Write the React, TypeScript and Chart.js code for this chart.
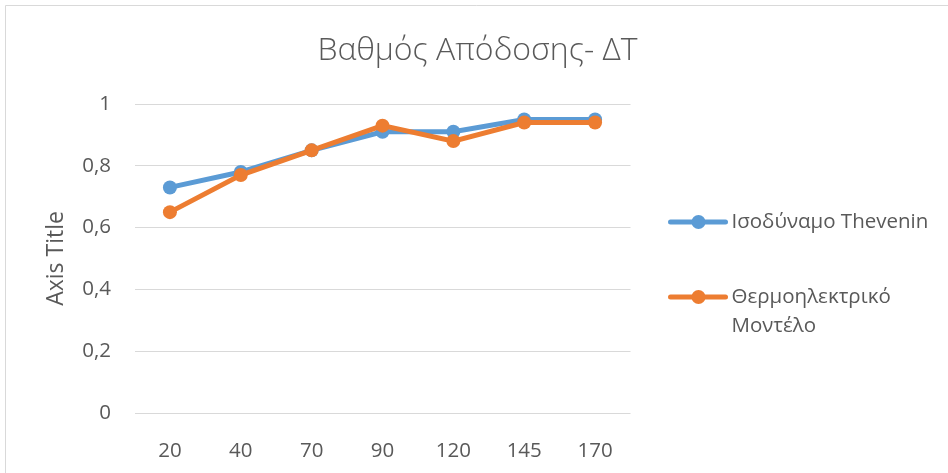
import React, { useEffect, useRef } from "react";
import { Chart, registerables } from "chart.js";

Chart.register(...registerables);

const categories = ["20", "40", "70", "90", "120", "145", "170"];
const theveninValues = [0.73, 0.78, 0.85, 0.91, 0.91, 0.95, 0.95];
const thermoValues = [0.65, 0.77, 0.85, 0.93, 0.88, 0.94, 0.94];
const seriesNames = ["Ισοδύναμο Thevenin", "Θερμοηλεκτρικό Μοντέλο"];
const seriesColors = ["#5B9BD5", "#ED7D31"];
const chartTitle = "Βαθμός Απόδοσης- ΔΤ";
const yAxisTitle = "Axis Title";

const FONT = "'Open Sans', 'Noto Sans', sans-serif";
const TEXT = "#595959";

const framePlugin = {
  id: "frame",
  beforeDraw(chart: any) {
    const ctx = chart.ctx;
    ctx.save();
    ctx.fillStyle = "#ffffff";
    ctx.fillRect(0, 0, chart.width, chart.height);
    ctx.strokeStyle = "#d9d9d9";
    ctx.lineWidth = 1;
    ctx.beginPath();
    ctx.moveTo(5.5, chart.height);
    ctx.lineTo(5.5, 5.5);
    ctx.lineTo(chart.width, 5.5);
    ctx.stroke();
    ctx.restore();
  },
};

const legendPlugin = {
  id: "sideLegend",
  afterDraw(chart: any) {
    const ctx = chart.ctx;
    const x0 = chart.chartArea.right + 40;
    const maxW = 210;
    const lineH = 29;
    const rows = [222, 297];
    ctx.save();
    ctx.font = `20.5px ${FONT}`;
    ctx.textBaseline = "middle";
    ctx.textAlign = "left";
    chart.data.datasets.forEach((ds: any, i: number) => {
      const y = rows[i];
      const color = ds.borderColor;
      ctx.strokeStyle = color;
      ctx.lineWidth = 5;
      ctx.lineCap = "round";
      ctx.beginPath();
      ctx.moveTo(x0, y);
      ctx.lineTo(x0 + 55, y);
      ctx.stroke();
      ctx.fillStyle = color;
      ctx.beginPath();
      ctx.arc(x0 + 28, y, 7, 0, Math.PI * 2);
      ctx.fill();
      const words = String(ds.label).split(" ");
      const lines: string[] = [];
      let cur = "";
      words.forEach((w) => {
        const test = cur ? cur + " " + w : w;
        if (ctx.measureText(test).width > maxW && cur) {
          lines.push(cur);
          cur = w;
        } else cur = test;
      });
      if (cur) lines.push(cur);
      ctx.fillStyle = TEXT;
      lines.forEach((ln, k) => ctx.fillText(ln, x0 + 61, y + k * lineH));
    });
    ctx.restore();
  },
};

export default function App() {
  const ref = useRef<HTMLCanvasElement>(null);
  useEffect(() => {
    if (!ref.current) return;
    Chart.defaults.font.family = FONT;
    const chart = new Chart(ref.current, {
      type: "line",
      data: {
        labels: categories,
        datasets: [
          {
            label: seriesNames[0],
            data: theveninValues,
            borderColor: seriesColors[0],
            backgroundColor: seriesColors[0],
            pointBackgroundColor: seriesColors[0],
            borderWidth: 5,
            pointRadius: 7,
            pointBorderWidth: 0,
            pointHoverRadius: 7,
            order: 1,
          },
          {
            label: seriesNames[1],
            data: thermoValues,
            borderColor: seriesColors[1],
            backgroundColor: seriesColors[1],
            pointBackgroundColor: seriesColors[1],
            borderWidth: 5,
            pointRadius: 7,
            pointBorderWidth: 0,
            pointHoverRadius: 7,
            order: 0,
          },
        ],
      },
      options: {
        responsive: false,
        animation: false,
        layout: { padding: { left: 7, right: 0, top: 0, bottom: 0 } },
        plugins: {
          legend: { display: false },
          tooltip: { enabled: false },
          title: {
            display: true,
            text: chartTitle,
            color: TEXT,
            font: { size: 32, weight: "300", family: FONT, lineHeight: 1.2 },
            padding: { top: 31.8, bottom: 33.8 },
          },
        },
        scales: {
          x: {
            offset: true,
            grid: { display: false },
            border: { display: false },
            ticks: { color: TEXT, font: { size: 20.5 }, padding: 18, maxRotation: 0 },
            afterFit: (s: any) => {
              s.height = 60;
            },
          },
          y: {
            min: 0,
            max: 1,
            position: "left",
            ticks: {
              stepSize: 0.2,
              color: TEXT,
              font: { size: 20.5 },
              padding: 23.5,
              callback: (v: any) => String(Math.round(Number(v) * 10) / 10).replace(".", ","),
            },
            grid: { color: "#d9d9d9", lineWidth: 1, drawTicks: false, tickLength: 0 },
            border: { display: false },
            title: {
              display: true,
              text: yAxisTitle,
              color: TEXT,
              font: { size: 23, lineHeight: 1.2 },
              padding: { top: 36, bottom: 0 },
            },
            afterFit: (s: any) => {
              s.width = 127.5;
            },
          },
          yR: {
            type: "linear",
            position: "right",
            display: true,
            grid: { display: false },
            border: { display: false },
            ticks: { display: false },
            afterFit: (s: any) => {
              s.width = 317.5;
            },
          },
        },
      },
      plugins: [framePlugin, legendPlugin],
    } as any);
    return () => chart.destroy();
  }, []);
  return (
    <div style={{ position: "fixed", left: 0, top: 0, width: 948, height: 473, background: "#fff" }}>
      <canvas ref={ref} width={948} height={473} style={{ display: "block", width: 948, height: 473 }} />
    </div>
  );
}
